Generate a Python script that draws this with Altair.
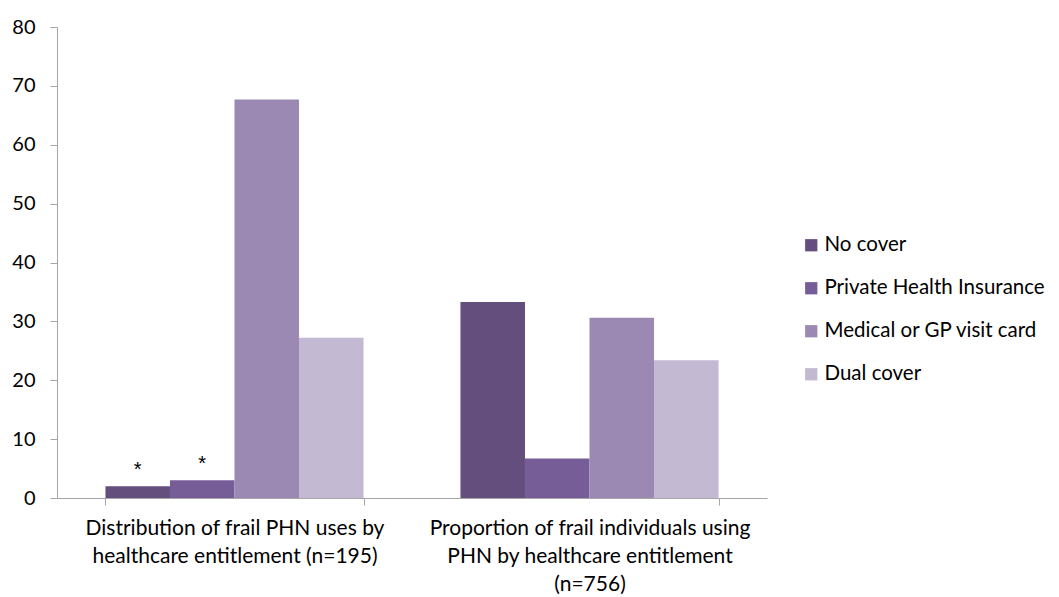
import altair as alt
import pandas as pd

groups = [
    "Distribution of frail PHN uses by|healthcare entitlement (n=195)",
    "Proportion of frail individuals using|PHN by healthcare entitlement|(n=756)",
]
series = ["No cover", "Private Health Insurance", "Medical or GP visit card", "Dual cover"]
colors = ["#634E7E", "#775D98", "#9B89B3", "#C3B9D2"]
values = {
    "No cover": [2.0, 33.3],
    "Private Health Insurance": [3.0, 6.7],
    "Medical or GP visit card": [67.7, 30.6],
    "Dual cover": [27.2, 23.4],
}
stars = {
    "No cover": ["*", ""],
    "Private Health Insurance": ["*", ""],
    "Medical or GP visit card": ["", ""],
    "Dual cover": ["", ""],
}

rows = []
for s in series:
    for gi, g in enumerate(groups):
        rows.append({"group": g, "series": s, "value": values[s][gi], "star": stars[s][gi]})
df = pd.DataFrame(rows)

FONT = "Lato"

x = alt.X("group:N", sort=groups, title=None,
          scale=alt.Scale(paddingInner=0.273, paddingOuter=0.1365),
          axis=alt.Axis(labelAngle=0, labelExpr="split(datum.label, '|')",
                        tickBand="extent", labelLineHeight=28, labelPadding=12,
                        labelFontSize=21, labelFont=FONT, labelColor="#000000",
                        domainColor="#A6A6A6", tickColor="#A6A6A6", tickSize=7,
                        labelLimit=400, labelBaseline="top"))
xo = alt.XOffset("series:N", sort=series)
y = alt.Y("value:Q", title=None,
          scale=alt.Scale(domain=[0, 80], nice=False),
          axis=alt.Axis(values=list(range(0, 81, 10)), grid=False,
                        labelFontSize=20, labelFont=FONT, labelColor="#000000",
                        domainColor="#A6A6A6", tickColor="#A6A6A6", tickSize=7,
                        labelPadding=15))

bars = alt.Chart(df).mark_bar().encode(
    x=x, xOffset=xo, y=y,
    color=alt.Color("series:N", sort=series,
                    scale=alt.Scale(domain=series, range=colors),
                    legend=alt.Legend(title=None, orient="none", legendX=744, legendY=208,
                                      symbolType="square", symbolSize=150,
                                      symbolStrokeWidth=0,
                                      labelFontSize=20.5, labelFont=FONT, labelColor="#000000",
                                      rowPadding=22, labelOffset=3, labelLimit=300)),
)

txt = alt.Chart(df).mark_text(baseline="bottom", dy=-6, fontSize=20, font="Liberation Sans",
                              color="#000000").encode(
    x=x, xOffset=xo, y=y, text="star:N"
)

chart = alt.layer(bars, txt).properties(
    width=710, height=471, background="white",
    autosize=alt.AutoSizeParams(type="none"),
    padding={"left": 49, "top": 19, "right": 282, "bottom": 110},
).configure_view(stroke=None)

chart.save("out.html", embed_options={"renderer": "svg", "actions": False})
